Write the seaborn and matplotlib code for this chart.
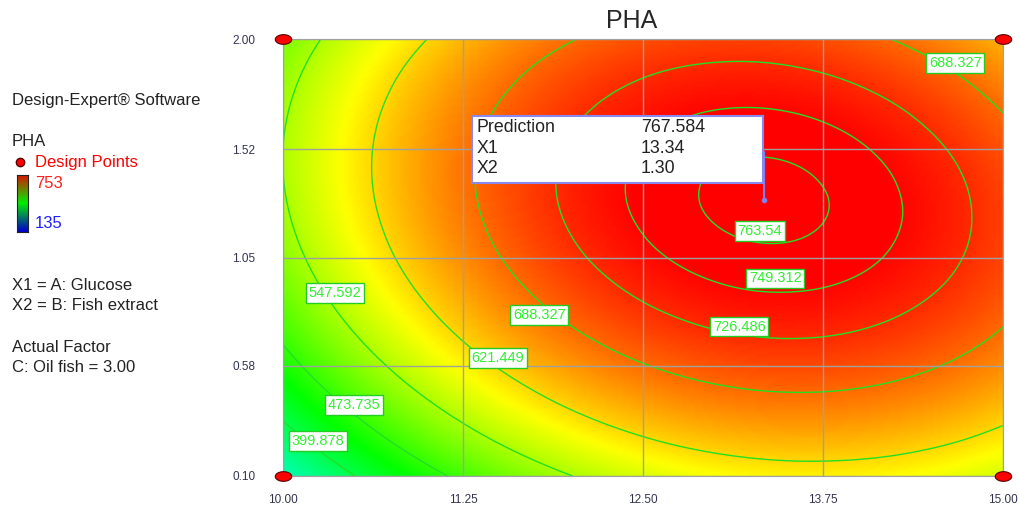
import numpy as np
import matplotlib
matplotlib.use('Agg')
import matplotlib.pyplot as plt
import matplotlib.tri as mtri
from matplotlib.colors import LinearSegmentedColormap
from matplotlib.lines import Line2D
import seaborn as sns

# %%
# values (PHA), rows = X2 (bottom -> top), cols = X1
x1_vals = [10.0, 10.25, 10.5, 10.75, 11.0, 11.25, 11.5, 11.75, 12.0, 12.25, 12.5,
           12.75, 13.0, 13.25, 13.5, 13.75, 14.0, 14.25, 14.5, 14.75, 15.0]
x2_vals = [0.1, 0.195, 0.29, 0.385, 0.48, 0.575, 0.67, 0.765, 0.86, 0.955, 1.05,
           1.145, 1.24, 1.335, 1.43, 1.525, 1.62, 1.715, 1.81, 1.905, 2.0]
pha_grid = [
    [330.8, 366.5, 399.8, 430.5, 458.8, 484.5, 507.8, 528.5, 546.8, 562.5, 575.8, 586.5, 594.8, 600.5, 603.8, 604.5, 602.8, 598.5, 591.8, 582.5, 570.8],
    [359.8, 395.2, 428.2, 458.7, 486.6, 512.1, 535.1, 555.5, 573.5, 588.9, 601.9, 612.4, 620.3, 625.8, 628.8, 629.2, 627.2, 622.7, 615.6, 606.1, 594.1],
    [386.7, 421.9, 454.5, 484.7, 512.4, 537.6, 560.3, 580.4, 598.1, 613.3, 626.0, 636.2, 643.8, 649.0, 651.7, 651.9, 649.6, 644.7, 637.4, 627.6, 615.3],
    [411.5, 446.4, 478.8, 508.7, 536.1, 561.0, 583.4, 603.3, 620.7, 635.6, 648.0, 657.9, 665.3, 670.1, 672.5, 672.4, 669.8, 664.7, 657.1, 647.0, 634.4],
    [434.3, 468.9, 501.0, 530.6, 557.7, 582.3, 604.4, 624.0, 641.2, 655.8, 667.9, 677.5, 684.6, 689.2, 691.3, 690.9, 688.0, 682.6, 674.8, 664.4, 651.5],
    [455.0, 489.3, 521.1, 550.4, 577.3, 601.6, 623.4, 642.7, 659.6, 673.9, 685.7, 695.0, 701.9, 706.2, 708.0, 707.3, 704.2, 698.5, 690.3, 679.6, 666.5],
    [473.6, 507.6, 539.2, 568.2, 594.7, 618.8, 640.3, 659.4, 675.9, 689.9, 701.5, 710.5, 717.1, 721.1, 722.6, 721.7, 718.2, 712.3, 703.8, 692.8, 679.4],
    [490.1, 523.9, 555.1, 583.9, 610.1, 633.9, 655.1, 673.9, 690.1, 703.9, 715.2, 723.9, 730.2, 733.9, 735.2, 733.9, 730.2, 723.9, 715.2, 704.0, 690.2],
    [504.6, 538.0, 569.0, 597.5, 623.4, 646.9, 667.9, 686.4, 702.3, 715.8, 726.8, 735.2, 741.2, 744.7, 745.6, 744.1, 740.1, 733.6, 724.5, 713.0, 699.0],
    [517.0, 550.1, 580.8, 609.0, 634.7, 657.9, 678.6, 696.7, 712.4, 725.6, 736.3, 744.5, 750.2, 753.4, 754.0, 752.2, 747.9, 741.1, 731.8, 720.0, 705.7],
    [527.3, 560.2, 590.6, 618.5, 643.9, 666.8, 687.2, 705.1, 720.5, 733.4, 743.8, 751.7, 757.1, 760.0, 760.4, 758.3, 753.7, 746.6, 737.0, 724.9, 710.3],
    [535.5, 568.1, 598.2, 625.8, 651.0, 673.6, 693.7, 711.3, 726.4, 739.0, 749.1, 756.8, 761.9, 764.5, 764.6, 762.2, 757.3, 749.9, 740.1, 727.7, 712.8],
    [541.6, 574.0, 603.8, 631.1, 656.0, 678.3, 698.1, 715.5, 730.3, 742.6, 752.4, 759.8, 764.6, 766.9, 766.8, 764.1, 758.9, 751.3, 741.1, 728.4, 713.2],
    [545.7, 577.8, 607.3, 634.4, 658.9, 681.0, 700.5, 717.6, 732.1, 744.1, 753.7, 760.7, 765.3, 767.3, 766.9, 763.9, 758.5, 750.5, 740.0, 727.1, 711.6],
    [547.7, 579.5, 608.8, 635.5, 659.8, 681.5, 700.8, 717.6, 731.8, 743.6, 752.8, 759.6, 763.9, 765.6, 764.9, 761.6, 755.9, 747.7, 736.9, 723.7, 707.9],
    [547.7, 579.1, 608.1, 634.6, 658.6, 680.0, 699.0, 715.5, 729.5, 740.9, 749.9, 756.4, 760.4, 761.8, 760.8, 757.3, 751.3, 742.7, 731.7, 718.2, 702.2],
    [545.5, 576.7, 605.4, 631.6, 655.3, 676.5, 695.2, 711.3, 725.0, 736.2, 744.9, 751.1, 754.8, 756.0, 754.7, 750.9, 744.6, 735.7, 724.4, 710.6, 694.3],
    [541.3, 572.2, 600.6, 626.5, 649.9, 670.8, 689.2, 705.1, 718.5, 729.4, 737.8, 743.8, 747.2, 748.1, 746.5, 742.4, 735.8, 726.7, 715.1, 701.0, 684.4],
    [535.0, 565.6, 593.7, 619.4, 642.5, 663.1, 681.2, 696.8, 710.0, 720.6, 728.7, 734.3, 737.4, 738.1, 736.2, 731.8, 724.9, 715.5, 703.7, 689.3, 672.4],
    [526.6, 557.0, 584.8, 610.1, 633.0, 653.3, 671.1, 686.5, 699.3, 709.6, 717.5, 722.8, 725.6, 726.0, 723.8, 719.1, 712.0, 702.3, 690.2, 675.5, 658.3],
    [516.2, 546.2, 573.8, 598.8, 621.4, 641.4, 659.0, 674.0, 686.6, 696.6, 704.2, 709.2, 711.8, 711.8, 709.4, 704.4, 697.0, 687.0, 674.6, 659.6, 642.2],
]

levels = [399.878, 473.735, 547.592, 621.449, 688.327, 726.486, 749.312, 763.54]
label_x = [10.24, 10.49, 10.36, 11.49, 11.78, 14.67, 13.17, 13.42, 13.31]
label_y = [0.252, 0.409, 0.896, 0.613, 0.80, 1.896, 0.75, 0.96, 1.165]
label_txt = ['399.878', '473.735', '547.592', '621.449', '688.327', '688.327',
             '726.486', '749.312', '763.54']

design_x = [10, 10, 15, 15]
design_y = [0.1, 2.0, 0.1, 2.0]

x_ticks = [10.00, 11.25, 12.50, 13.75, 15.00]
y_ticks = [0.10, 0.58, 1.05, 1.52, 2.00]

pred_x, pred_y, pred_val = 13.34, 1.30, 767.584
pha_low, pha_high = 135, 753

# %%
sns.set_style('white')
plt.rcParams['font.family'] = ['Liberation Sans', 'DejaVu Sans']

de_cmap = LinearSegmentedColormap.from_list('de', ['#0000ff', '#00ffff', '#00ff00', '#ffff00', '#ff0000'])

fig = plt.figure(figsize=(10.2, 5.14), dpi=100)
W, H = 1020, 514
ax = fig.add_axes([283 / W, 38 / H, 720 / W, 437 / H])

# surface: triangulate the read grid in index space, let matplotlib refine it smoothly
z = np.array(pha_grid, dtype=float)
ny, nx = z.shape
jj, ii = np.mgrid[0:ny, 0:nx]
idx = ii + jj * nx
a, b, c, d = idx[:-1, :-1].ravel(), idx[:-1, 1:].ravel(), idx[1:, 1:].ravel(), idx[1:, :-1].ravel()
triangles = np.vstack([np.column_stack([a, b, c]), np.column_stack([a, c, d])])
tri = mtri.Triangulation(ii.ravel().astype(float), jj.ravel().astype(float), triangles)
interp = mtri.CubicTriInterpolator(tri, z.ravel(), kind='min_E')
tri_f, z_f = mtri.UniformTriRefiner(tri).refine_field(z.ravel(), triinterpolator=interp, subdiv=3)
tri_xy = mtri.Triangulation(np.interp(tri_f.x, np.arange(nx), x1_vals),
                            np.interp(tri_f.y, np.arange(ny), x2_vals), tri_f.triangles)

ax.tripcolor(tri_xy, z_f, shading='gouraud', cmap=de_cmap, vmin=pha_low, vmax=pha_high, zorder=0)
ax.tricontour(tri_xy, z_f, levels=levels, colors='#22e022', linewidths=1.0, zorder=1)

for xx, yy, txt in zip(label_x, label_y, label_txt):
    ax.text(xx, yy, txt, color='#33ee33', fontsize=10.5, ha='center', va='center', zorder=5,
            bbox=dict(boxstyle='square,pad=0.18', fc='white', ec='#22cc22', lw=1))

ax.set_xlim(10, 15)
ax.set_ylim(0.1, 2.0)
ax.set_xticks(x_ticks)
ax.set_yticks(y_ticks)
ax.set_xticklabels(['%.2f' % t for t in x_ticks])
ax.set_yticklabels(['%.2f' % t for t in y_ticks])
ax.tick_params(axis='y', length=14, width=1, colors='black', labelcolor='#333350', labelsize=8.5, pad=6)
ax.tick_params(axis='x', length=7, width=1, colors='black', labelcolor='#333350', labelsize=8.5, pad=6)
ax.grid(True, color='#a0a0a0', lw=1)
ax.set_axisbelow(False)
for sp in ax.spines.values():
    sp.set_color('#a0a0a0')

t = np.linspace(0, 2 * np.pi, 40)
ell = np.column_stack([1.7 * np.cos(t), np.sin(t)])
sns.scatterplot(x=design_x, y=design_y, ax=ax, marker=ell, s=140, color='#ff0000',
                edgecolor='#550000', linewidth=0.8, clip_on=False, zorder=10, legend=False)

fig.text(632 / W, 1 - 21 / H, 'PHA', fontsize=18, ha='center', va='center')

# prediction flag
ax.plot([pred_x, pred_x], [pred_y, 1.51], color='#8080ee', lw=1.5, zorder=6)
ax.plot([pred_x], [pred_y], 'o', color='#8080ee', ms=3, zorder=6)
fig.patches.append(plt.Rectangle((472 / W, 1 - 183 / H), 291 / W, 67 / H,
                                 transform=fig.transFigure, fc='white', ec='#8888ee', lw=1.5, zorder=8))
rows = [('Prediction', '%.3f' % pred_val), ('X1', '%.2f' % pred_x), ('X2', '%.2f' % pred_y)]
for i, (lab, val) in enumerate(rows):
    fig.text(477 / W, 1 - (128 + 20.5 * i) / H, lab, fontsize=12.8, va='center', color='#222222', zorder=9)
    fig.text(641 / W, 1 - (128 + 20.5 * i) / H, val, fontsize=12.8, va='center', color='#222222', zorder=9)


# left side text
def ftext(px, py, s, **kw):
    fig.text(px / W, 1 - py / H, s, va='center', fontsize=12, **kw)


ftext(12, 101, 'Design-Expert® Software', color='#222222')
ftext(12, 142, 'PHA', color='#222222')
ftext(35, 162, 'Design Points', color='#ff0000')
ftext(35, 183, str(pha_high), color='#ff2020')
ftext(35, 224, str(pha_low), color='#2020ff')
ftext(12, 285, 'X1 = A: Glucose', color='#222222')
ftext(12, 306, 'X2 = B: Fish extract', color='#222222')
ftext(12, 347, 'Actual Factor', color='#222222')
ftext(12, 367, 'C: Oil fish = 3.00', color='#222222')
fig.add_artist(Line2D([20 / W], [1 - 162 / H], marker='o', ms=6, color='#ff0000',
                      mec='#550000', transform=fig.transFigure))
cax = fig.add_axes([17 / W, 1 - 232 / H, 11 / W, 57 / H])
cax.imshow(np.linspace(1, 0, 50)[:, None], aspect='auto',
           cmap=LinearSegmentedColormap.from_list('lg', ['#0000cc', '#00ee00', '#dd1100']))
cax.set_xticks([])
cax.set_yticks([])
for sp in cax.spines.values():
    sp.set_color('#222222')

plt.savefig('out.png', dpi=100)
